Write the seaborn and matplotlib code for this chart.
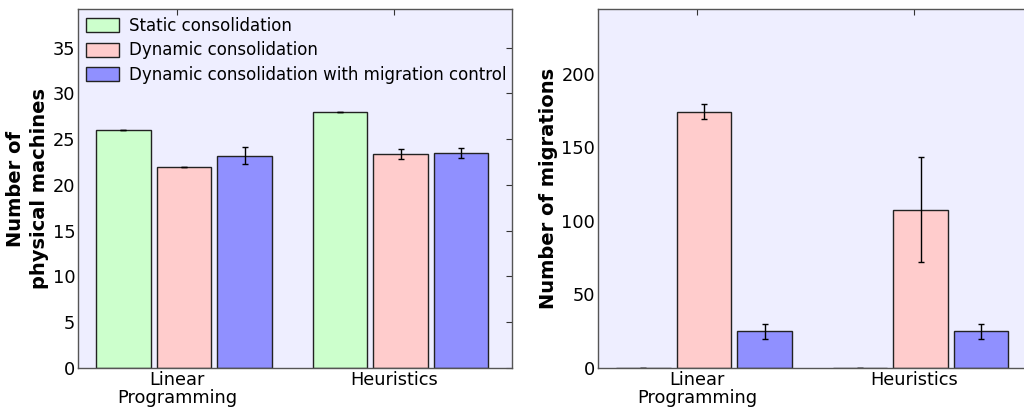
import matplotlib
matplotlib.use("Agg")
import matplotlib.pyplot as plt
import numpy as np
import pandas as pd
import seaborn as sns

# Values
methods = ["Linear\nProgramming", "Heuristics"]
strategies = ["Static consolidation", "Dynamic consolidation",
              "Dynamic consolidation with migration control"]
pm_mean = [[26.0, 28.0], [22.0, 23.4], [23.2, 23.5]]
pm_err = [[0.0, 0.0], [0.0, 0.55], [0.95, 0.5]]
mig_mean = [[0.0, 0.0], [174.0, 107.5], [25.0, 25.0]]
mig_err = [[0.0, 0.0], [5.0, 35.7], [5.0, 5.0]]

colors = ["#ccffcc", "#ffcccc", "#9090ff"]
bg = "#eeeeff"

sns.set_theme(style="white")
plt.rcParams["font.family"] = ["DejaVu Sans"]
plt.rcParams["text.color"] = "black"
plt.rcParams["axes.labelcolor"] = "black"
plt.rcParams["xtick.color"] = "black"
plt.rcParams["ytick.color"] = "black"

fig = plt.figure(figsize=(10.24, 4.18), dpi=100)
ax1 = fig.add_axes([78 / 1024, 1 - 368 / 418, 434 / 1024, 358.7 / 418])
ax2 = fig.add_axes([598 / 1024, 1 - 368 / 418, 434 / 1024, 358.7 / 418])


def draw(ax, means, errs, ylabel, ymax, yticks):
    rows = []
    for s, strat in enumerate(strategies):
        for m, meth in enumerate(methods):
            rows.append({"method": meth, "strategy": strat, "value": means[s][m]})
    df = pd.DataFrame(rows)
    sns.barplot(data=df, x="method", y="value", hue="strategy", order=methods,
                hue_order=strategies, palette=colors, errorbar=None,
                width=0.84, gap=0.10, edgecolor="#222222", linewidth=1.0,
                saturation=1, ax=ax, legend=True)
    bar_containers = list(ax.containers)[:len(strategies)]
    for s, cont in enumerate(bar_containers):
        for m, bar in enumerate(cont.patches):
            cx = bar.get_x() + bar.get_width() / 2
            ax.errorbar(cx, means[s][m], yerr=errs[s][m], fmt="none",
                        ecolor="black", elinewidth=1.0, capsize=2.3, capthick=1.0)
    ax.set_facecolor(bg)
    ax.set_xlim(-0.49, 1.515)
    ax.set_ylim(0, ymax)
    ax.set_yticks(yticks)
    ax.set_xticks([-0.032, 0.97])
    ax.set_xticklabels(methods, fontsize=12.8, linespacing=1.05)
    ax.tick_params(axis="y", labelsize=12.8)
    ax.tick_params(direction="in", length=4, width=0.8, top=True, right=True,
                   color="#333333", pad=2)
    ax.set_xlabel("")
    ax.set_ylabel(ylabel, fontsize=14, fontweight="bold", linespacing=1.35,
                  labelpad=2.5)
    for sp in ax.spines.values():
        sp.set_color("#555555")
        sp.set_linewidth(1.0)


draw(ax1, pm_mean, pm_err, "Number of\nphysical machines", 39.2, range(0, 36, 5))
draw(ax2, mig_mean, mig_err, "Number of migrations", 243.6, range(0, 201, 50))

ax1.legend(loc="upper left", frameon=False, fontsize=12, handlelength=2.0,
           handleheight=0.9, labelspacing=0.4, borderaxespad=0.3,
           handletextpad=0.6, borderpad=0.15)
ax2.get_legend().remove()

fig.savefig("out.png", dpi=100)
